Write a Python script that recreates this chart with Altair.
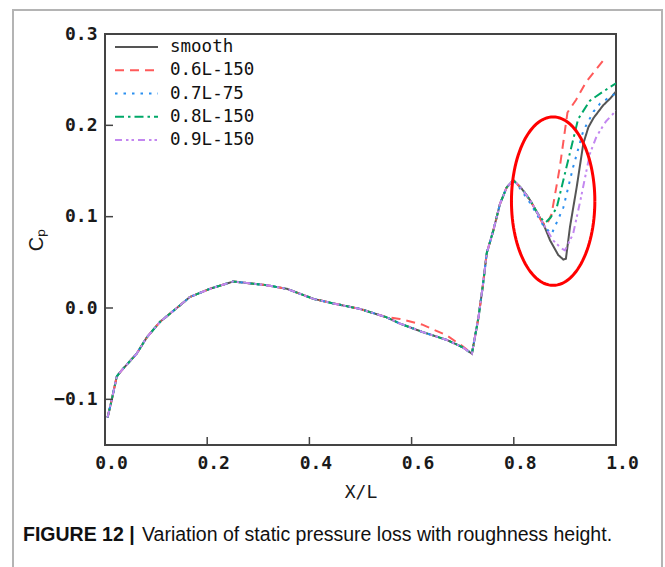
import altair as alt
import pandas as pd
import numpy as np

MONO = "DejaVu Sans Mono"
SANS = "Liberation Sans"

series_names = ["smooth", "0.6L-150", "0.7L-75", "0.8L-150", "0.9L-150"]
series_colors = ["#555555", "#ff5a5a", "#2b8ff0", "#00a868", "#c387f0"]
series_dash = [[1, 0], [9, 6], [2.5, 6], [9, 4, 2.5, 4], [7, 4, 2.5, 3, 2.5, 4]]

x_ticks = [0.0, 0.2, 0.4, 0.6, 0.8, 1.0]
y_ticks = [-0.1, 0.0, 0.1, 0.2, 0.3]

# shared leading part of all curves
x_base = [0.005, 0.013, 0.023, 0.033, 0.062, 0.082, 0.108, 0.147, 0.166, 0.205,
          0.251, 0.316, 0.356, 0.408, 0.447, 0.499, 0.55]
cp_base = [-0.120, -0.101, -0.075, -0.068, -0.050, -0.032, -0.015, 0.003, 0.012, 0.021,
           0.029, 0.025, 0.021, 0.010, 0.005, -0.001, -0.010]

x_mid = [0.577, 0.62, 0.669, 0.70]
cp_mid_smooth = [-0.017, -0.026, -0.035, -0.043]
cp_mid_06 = [-0.012, -0.018, -0.030, -0.042]

x_rise = [0.718, 0.731, 0.740, 0.747, 0.760, 0.773, 0.786, 0.799]
cp_rise = [-0.050, -0.010, 0.027, 0.060, 0.085, 0.114, 0.132, 0.140]

x_desc = [0.815, 0.832, 0.845]
cp_desc = [0.131, 0.118, 0.105]

x_tail_smooth = [0.858, 0.871, 0.887, 0.897, 0.902, 0.910, 0.923, 0.936, 0.946, 0.956, 0.975, 0.988, 1.0]
cp_tail_smooth = [0.092, 0.074, 0.058, 0.053, 0.054, 0.089, 0.132, 0.180, 0.198, 0.208, 0.222, 0.229, 0.237]
x_tail_06 = [0.855, 0.864, 0.874, 0.890, 0.905, 0.922, 0.941, 0.975]
cp_tail_06 = [0.094, 0.0905, 0.103, 0.154, 0.214, 0.228, 0.247, 0.271]
x_tail_07 = [0.812, 0.832, 0.858, 0.874, 0.897, 0.916, 0.936, 0.956, 0.969, 0.988, 1.0]
cp_tail_07 = [0.131, 0.115, 0.090, 0.081, 0.110, 0.154, 0.194, 0.215, 0.224, 0.231, 0.235]
x_tail_08 = [0.858, 0.863, 0.872, 0.884, 0.903, 0.926, 0.949, 0.975, 1.0]
cp_tail_08 = [0.095, 0.094, 0.099, 0.110, 0.154, 0.207, 0.227, 0.237, 0.246]
x_tail_09 = [0.858, 0.877, 0.894, 0.900, 0.916, 0.930, 0.949, 0.962, 0.980, 1.0]
cp_tail_09 = [0.092, 0.074, 0.065, 0.063, 0.081, 0.117, 0.169, 0.188, 0.204, 0.216]

# highlight ellipse (annotation), in data units
ell_cx, ell_cy, ell_rx, ell_ry = 0.877, 0.117, 0.0816, 0.0922

caption_bold = "FIGURE 12 |"
caption_text = "Variation of static pressure loss with roughness height."

pieces = {
    "smooth": [(x_base, cp_base), (x_mid, cp_mid_smooth), (x_rise, cp_rise), (x_desc, cp_desc), (x_tail_smooth, cp_tail_smooth)],
    "0.6L-150": [(x_base, cp_base), (x_mid, cp_mid_06), (x_rise, cp_rise), (x_desc, cp_desc), (x_tail_06, cp_tail_06)],
    "0.7L-75": [(x_base, cp_base), (x_mid, cp_mid_smooth), (x_rise, cp_rise), (x_tail_07, cp_tail_07)],
    "0.8L-150": [(x_base, cp_base), (x_mid, cp_mid_smooth), (x_rise, cp_rise), (x_desc, cp_desc), (x_tail_08, cp_tail_08)],
    "0.9L-150": [(x_base, cp_base), (x_mid, cp_mid_smooth), (x_rise, cp_rise), (x_desc, cp_desc), (x_tail_09, cp_tail_09)],
}
rows = []
for s, parts in pieces.items():
    i = 0
    for xs, ys in parts:
        for xv, yv in zip(xs, ys):
            rows.append({"series": s, "x": xv, "cp": yv, "i": i})
            i += 1
df = pd.DataFrame(rows)

t = np.linspace(0, 2 * np.pi, 121)
ell_df = pd.DataFrame({"x": ell_cx + ell_rx * np.cos(t), "cp": ell_cy + ell_ry * np.sin(t), "i": np.arange(len(t))})

W, H = 511, 411

xsc = alt.Scale(domain=[0, 1], nice=False, zero=False)
ysc = alt.Scale(domain=[-0.15, 0.3], nice=False, zero=False)
color_enc = alt.Color("series:N", scale=alt.Scale(domain=series_names, range=series_colors), legend=None)
dash_enc = alt.StrokeDash("series:N", scale=alt.Scale(domain=series_names, range=series_dash), legend=None)

lines = alt.Chart(df).mark_line(strokeWidth=2, clip=True).encode(
    x=alt.X("x:Q", scale=xsc, axis=alt.Axis(values=x_ticks, format=".1f", title="X/L", grid=False,
                                             ticks=False, domain=False, labelPadding=9, labelOffset=6,
                                             labelFlush=False, titlePadding=11)),
    y=alt.Y("cp:Q", scale=ysc, axis=alt.Axis(values=y_ticks, format=".1f", title="Cₚ", grid=False,
                                              ticks=False, domain=False, labelPadding=8,
                                              labelFlush=False, titlePadding=7,
                                              titleFont=SANS, titleFontSize=20)),
    color=color_enc,
    strokeDash=dash_enc,
    order="i:Q",
    detail="series:N",
)

ellipse = alt.Chart(ell_df).mark_line(color="#ff0000", strokeWidth=3).encode(
    x=alt.X("x:Q", scale=xsc), y=alt.Y("cp:Q", scale=ysc), order="i:Q")

xt = alt.Chart(pd.DataFrame({"v": x_ticks})).mark_rule(color="#444444", strokeWidth=1.5).encode(
    x=alt.X("v:Q", scale=xsc), y=alt.value(H), y2=alt.value(H - 8))
yt = alt.Chart(pd.DataFrame({"v": y_ticks})).mark_rule(color="#444444", strokeWidth=1.5).encode(
    y=alt.Y("v:Q", scale=ysc), x=alt.value(0), x2=alt.value(8))

one = pd.DataFrame({"a": [0]})
border = alt.Chart(one).mark_rect(fillOpacity=0, stroke="#b4b4b4", strokeWidth=2).encode(
    x=alt.value(-92), x2=alt.value(557), y=alt.value(-24), y2=alt.value(600))
cap1 = alt.Chart(one).mark_text(text=caption_bold, font=SANS, fontSize=19.5, fontWeight="bold",
                                align="left", baseline="middle", color="#111111").encode(
    x=alt.value(-82), y=alt.value(501))
cap2 = alt.Chart(one).mark_text(text=caption_text, font=SANS, fontSize=19.5,
                                align="left", baseline="middle", color="#111111").encode(
    x=alt.value(37), y=alt.value(501))

main = alt.layer(border, lines, ellipse, xt, yt, cap1, cap2)

leg_df = pd.DataFrame({"series": series_names})
leg_y = alt.Y("series:N", sort=series_names,
              scale=alt.Scale(type="point", domain=series_names, range=[13, 106], padding=0), axis=None)
leg_rules = alt.Chart(leg_df).mark_rule(strokeWidth=2).encode(
    x=alt.value(10), x2=alt.value(53), y=leg_y, color=color_enc, strokeDash=dash_enc)
leg_text = alt.Chart(leg_df).mark_text(align="left", baseline="middle", font=MONO, fontSize=17.5,
                                       color="#111111").encode(
    x=alt.value(65), y=leg_y, text="series:N")
legend = alt.layer(leg_rules, leg_text)

chart = alt.layer(main, legend).resolve_scale(y="independent").properties(
    width=W, height=H,
    padding={"left": 105, "top": 34, "right": 49, "bottom": 122},
    autosize=alt.AutoSizeParams(type="none"),
    background="white",
).configure_view(stroke="#444444", strokeWidth=2).configure_axis(
    labelFont=MONO, labelFontSize=18, labelFontWeight="bold", labelColor="#1a1a1a",
    titleFont=MONO, titleFontSize=18, titleFontWeight="normal", titleColor="#1a1a1a",
)

chart.save("out.html", embed_options={"renderer": "svg", "actions": False})
